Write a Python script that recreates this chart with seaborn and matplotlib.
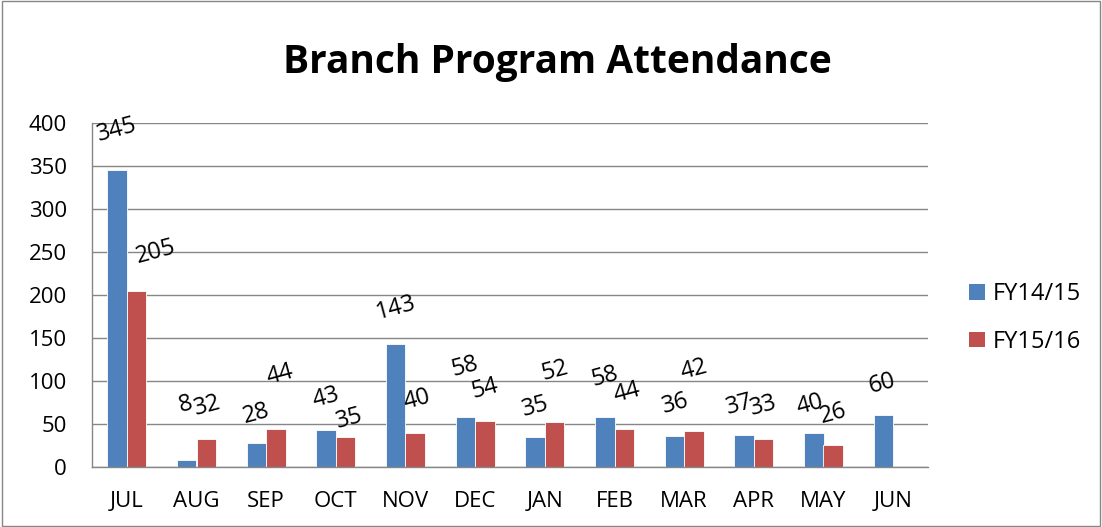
import matplotlib
matplotlib.use("Agg")
import matplotlib.pyplot as plt
import seaborn as sns
import pandas as pd
from matplotlib.patches import Rectangle, Patch

months = ["JUL", "AUG", "SEP", "OCT", "NOV", "DEC", "JAN", "FEB", "MAR", "APR", "MAY", "JUN"]
fy1415 = [345, 8, 28, 43, 143, 58, 35, 58, 36, 37, 40, 60]
fy1516 = [205, 32, 44, 35, 40, 54, 52, 44, 42, 33, 26, None]
series = ["FY14/15", "FY15/16"]
yticks = [0, 50, 100, 150, 200, 250, 300, 350, 400]

# label offsets in points (style only), per series per month
off1415 = [(0, 29), (-1, 40), (0, 21), (0, 23), (0, 26), (0, 36), (0, 22), (0, 29), (1, 23), (-3, 22), (-3, 20), (-1, 23)]
off1516 = [(14, 28), (1, 24), (3, 39), (3, 13), (1, 24), (0, 23), (0, 37), (2, 26), (0, 44), (0, 24), (0, 22), (0, 0)]

sns.set_theme(style="white")
plt.rcParams['font.family'] = ['Open Sans', 'DejaVu Sans']
plt.rcParams['text.color'] = 'black'
plt.rcParams['xtick.color'] = 'black'
plt.rcParams['ytick.color'] = 'black'

df = pd.DataFrame({
    "month": months * 2,
    "value": fy1415 + fy1516,
    "series": [series[0]] * 12 + [series[1]] * 12,
})

fig = plt.figure(figsize=(11.02, 5.27), dpi=100)
ax = fig.add_axes([92 / 1102, 1 - 467 / 527, (928 - 92) / 1102, (467 - 123) / 527])

colors = ["#4F81BD", "#C0504D"]
sns.barplot(data=df, x="month", y="value", hue="series", order=months, hue_order=series,
            palette=colors, width=0.56, gap=0, ax=ax, saturation=1, errorbar=None,
            edgecolor="#ffffff", linewidth=0.6, legend=False)

ax.set_xlim(-0.5, 11.5)
ax.set_ylim(0, 400)
ax.set_yticks(yticks)
ax.set_yticklabels([str(v) for v in yticks], fontsize=16)
ax.tick_params(axis="x", labelsize=16, length=0, pad=17, labelcolor="black")
ax.tick_params(axis="y", length=0, pad=18, labelcolor="black")
ax.set_xlabel("")
ax.set_ylabel("")
ax.yaxis.grid(True, color="#868686", linewidth=1)
ax.set_axisbelow(True)
for s in ["top", "right"]:
    ax.spines[s].set_visible(False)
for s in ["left", "bottom"]:
    ax.spines[s].set_color("#868686")
    ax.spines[s].set_linewidth(1)

# data labels
for cont, vals, offs in zip(ax.containers, [fy1415, fy1516], [off1415, off1516]):
    for bar, v, (dx, dy) in zip(cont, vals, offs):
        if v is None:
            continue
        x = bar.get_x() + bar.get_width() / 2
        ax.annotate(str(v), (x, v), xytext=(dx, dy), textcoords="offset points",
                    ha="center", va="center", rotation=15, fontsize=17, color="black")

fig.text(557 / 1102, 1 - 63 / 527, "Branch Program Attendance", ha="center", va="center",
         fontsize=28, fontweight="bold", color="black")

# legend
handles = [Patch(facecolor=c, edgecolor="none") for c in colors]
fig.legend(handles, series, loc="center left", bbox_to_anchor=(948 / 1102, 1 - 318 / 527),
           frameon=False, fontsize=17, handlelength=0.65, handleheight=0.65, labelspacing=1.0,
           handletextpad=0.35, labelcolor="black")

fig.patches.append(Rectangle((0.002, 0.002), 0.996, 0.996, transform=fig.transFigure,
                             fill=False, edgecolor="#868686", linewidth=1))

fig.savefig("out.png", dpi=100)
